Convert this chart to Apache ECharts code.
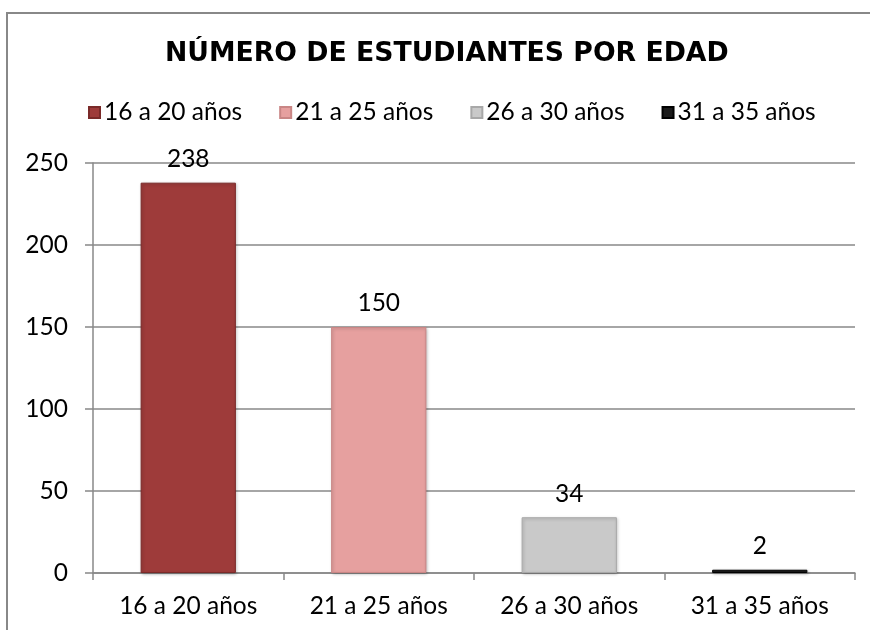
<!DOCTYPE html>
<html><head><meta charset="utf-8">
<script src="https://cdn.jsdelivr.net/npm/echarts@6/dist/echarts.min.js"></script>
<style>html,body{margin:0;padding:0;background:#fff}#c{width:870px;height:630px}</style>
</head><body><div id="c"></div>
<script>
const categories = ['16 a 20 años', '21 a 25 años', '26 a 30 años', '31 a 35 años'];
const values = [238, 150, 34, 2];
const yTicks = [0, 50, 100, 150, 200, 250];
const titleText = 'NÚMERO DE ESTUDIANTES POR EDAD';

const colors = ['#9E3B3A', '#E6A09F', '#C9C9C9', '#1A1A1A'];
const borders = ['#7A2A29', '#C98685', '#A8A8A8', '#000000'];
const labelFont = 'Lato';
const fs = 24.5;

const chart = echarts.init(document.getElementById('c'));
const series = categories.map((name, i) => ({
  name: name,
  type: 'bar',
  stack: 'all',
  barWidth: '50%',
  data: categories.map((c, j) => j === i ? values[j] : '-'),
  itemStyle: {
    color: colors[i],
    borderColor: borders[i],
    borderWidth: 1,
    shadowColor: 'rgba(0,0,0,0.25)',
    shadowBlur: 3,
    shadowOffsetX: 1,
    shadowOffsetY: 1
  },
  label: {
    show: true,
    position: 'top',
    distance: 11,
    color: '#000',
    fontFamily: labelFont,
    fontSize: fs
  }
}));

chart.setOption({
  animation: false,
  backgroundColor: '#fff',
  title: {
    text: titleText,
    left: 160,
    top: 36,
    textStyle: { fontFamily: 'DejaVu Sans', fontWeight: 'bold', fontSize: 26.7, color: '#000' }
  },
  legend: {
    data: categories,
    left: 83,
    top: 95,
    itemWidth: 11,
    itemHeight: 11,
    itemGap: 37,
    icon: 'rect',
    textStyle: { fontFamily: labelFont, fontSize: fs, color: '#000', padding: [0, 0, 0, -1] }
  },
  grid: { left: 93, right: 15, top: 163, bottom: 57, containLabel: false },
  xAxis: {
    type: 'category',
    data: categories,
    axisLine: { lineStyle: { color: '#888', width: 1.5 } },
    axisTick: { show: true, length: 7, lineStyle: { color: '#888', width: 1.5 } },
    axisLabel: { fontFamily: labelFont, fontSize: fs, color: '#000', margin: 21 }
  },
  yAxis: {
    type: 'value',
    min: yTicks[0],
    max: yTicks[yTicks.length - 1],
    interval: yTicks[1] - yTicks[0],
    axisLine: { show: true, lineStyle: { color: '#888', width: 1.5 } },
    axisTick: { show: true, length: 8, lineStyle: { color: '#888', width: 1.5 } },
    axisLabel: { fontFamily: labelFont, fontSize: fs, color: '#000', margin: 25 },
    splitLine: { lineStyle: { color: '#888', width: 1.5 } }
  },
  graphic: [{
    type: 'rect',
    shape: { x: 7, y: 13, width: 1000, height: 800 },
    style: { fill: 'none', stroke: '#888', lineWidth: 2 },
    silent: true
  }],
  series: series
});
</script></body></html>
